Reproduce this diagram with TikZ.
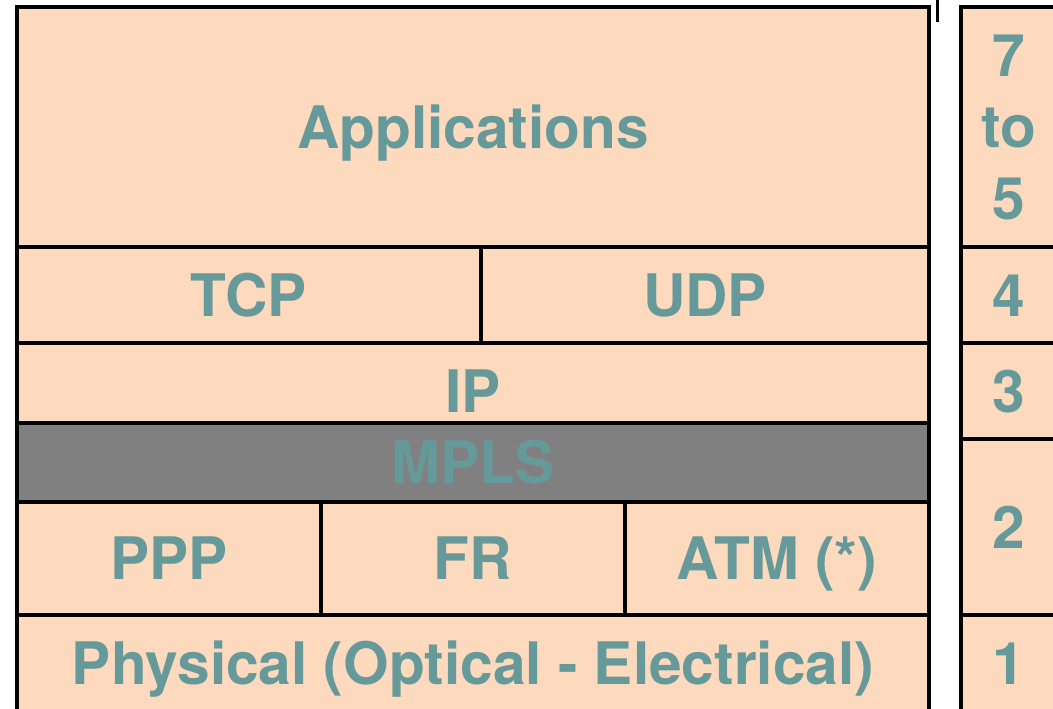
\documentclass[tikz,border=0pt]{standalone}
\usepackage{fontspec}
\newfontfamily\layerfont{TeX Gyre Heros}
\usepackage{tikz}
\usetikzlibrary{positioning}
\definecolor{peach}{HTML}{FDD9BE}
\definecolor{teal}{HTML}{669999}
\tikzset{
  cell/.style={draw, line width=2pt, fill=peach, inner sep=0pt, outer sep=0pt,
    text=teal, font=\layerfont\bfseries\fontsize{29.3}{35.75}\selectfont,
    text height=21pt, text depth=0pt},
  darkcell/.style={cell, fill=black!50},
  lowtext/.style={text height=29pt},
  multicell/.style={cell, text height=, text depth=, align=center}
}

\begin{document}
\begin{tikzpicture}[x=0.5pt,y=-0.5pt]
  \useasboundingbox (0,0) rectangle (1053,708);
  \clip (0,0) rectangle (1053,708);
  % protocol stack
  \node[cell, minimum width=456pt, minimum height=120pt] (app) at (473,127) {Applications};
  \node[cell, minimum width=232pt, minimum height=48pt] (tcp) at (249,295) {TCP};
  \node[cell, minimum width=224pt, minimum height=48pt] (udp) at (705,295) {UDP};
  \node[cell, lowtext, minimum width=456pt, minimum height=40pt] (ip) at (473,383) {IP};
  \node[darkcell, minimum width=456pt, minimum height=39.5pt] (mpls) at (473,462.5) {MPLS};
  \node[cell, minimum width=152pt, minimum height=56.5pt] (ppp) at (169,558.5) {PPP};
  \node[cell, minimum width=152pt, minimum height=56.5pt] (fr) at (473,558.5) {FR};
  \node[cell, minimum width=152pt, minimum height=56.5pt] (atm) at (777,558.5) {ATM (*)};
  \node[cell, minimum width=456pt, minimum height=48.5pt] (phys) at (473,663.5) {Physical (Optical - Electrical)};
  % OSI layers
  \node[multicell, minimum width=48pt, minimum height=120pt] (osi7) at (1009,127) {7\\to\\5};
  \node[cell, minimum width=48pt, minimum height=48pt] (osi4) at (1009,295) {4};
  \node[cell, minimum width=48pt, minimum height=48pt] (osi3) at (1009,391) {3};
  \node[cell, minimum width=48pt, minimum height=88pt] (osi2) at (1009,527) {2};
  \node[cell, minimum width=48pt, minimum height=48.5pt] (osi1) at (1009,663.5) {1};
  % tick
  \coordinate (tickA) at (937.5,0);
  \coordinate (tickB) at (937.5,22);
  \draw[line width=1.5pt] (tickA) -- (tickB);
\end{tikzpicture}
\end{document}
